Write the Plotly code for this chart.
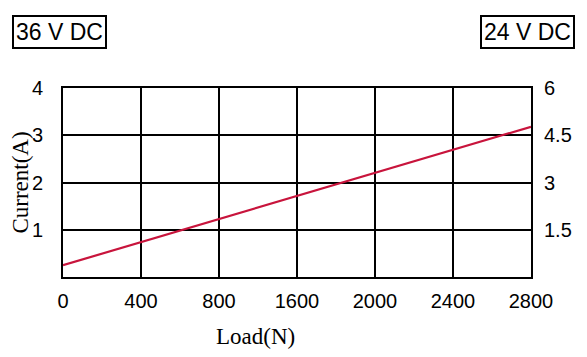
import plotly.graph_objects as go

# Data
load_labels = ["0", "400", "800", "1600", "2000", "2400", "2800"]
current_36v = [0.25, 0.74, 1.23, 1.72, 2.21, 2.69, 3.18]
left_ticks = [1, 2, 3, 4]
right_ticks = [1.5, 3, 4.5, 6]
right_tick_labels = ["1.5", "3", "4.5", "6"]

idx = list(range(len(load_labels)))

# page body has an 8px default margin; compensate
OFF = 8
W, H = 587 - OFF, 357 - OFF
l, t = 63 - OFF, 88 - OFF
r = W - (531 - OFF)
b = H - (277 - OFF)

fig = go.Figure()
fig.add_trace(go.Scatter(
    x=idx, y=current_36v, mode="lines",
    line=dict(color="#c8143c", width=2.2),
    showlegend=False, hoverinfo="skip",
))
fig.add_trace(go.Scatter(x=[], y=[], yaxis="y2", showlegend=False))

sans = "Liberation Sans, Arial, sans-serif"
serif = "Liberation Serif, Times New Roman, serif"

fig.update_layout(
    width=W, height=H,
    margin=dict(l=l, r=r, t=t, b=b, autoexpand=False),
    plot_bgcolor="white", paper_bgcolor="white",
    xaxis=dict(
        range=[0, 6], tickvals=idx, ticktext=load_labels,
        showgrid=True, gridcolor="black", gridwidth=2,
        showline=True, linecolor="black", linewidth=2, mirror=True,
        ticks="", ticklabelstandoff=5,
        tickfont=dict(family=sans, size=20, color="black"),
        zeroline=False,
    ),
    yaxis=dict(
        range=[0, 4], tickvals=left_ticks,
        showgrid=True, gridcolor="black", gridwidth=2,
        showline=True, linecolor="black", linewidth=2, mirror=True,
        ticks="", ticklabelstandoff=14,
        tickfont=dict(family=sans, size=20, color="black"),
        zeroline=False,
        title=dict(text="Current(A)", standoff=12,
                   font=dict(family=serif, size=23, color="black")),
    ),
    yaxis2=dict(
        overlaying="y", side="right", range=[0, 6],
        tickvals=right_ticks, ticktext=right_tick_labels,
        showgrid=False, zeroline=False, showline=False,
        ticks="", ticklabelstandoff=12,
        tickfont=dict(family=sans, size=20, color="black"),
    ),
)

# annotations positioned by target page pixels
ann_specs = [
    dict(text="Load(N)", px=255, py=336,
         font=dict(family=serif, size=23, color="black")),
    dict(text="36 V DC", px=59, py=32,
         font=dict(family=sans, size=23, color="black"),
         bordercolor="black", borderwidth=2, borderpad=2, bgcolor="white"),
    dict(text="24 V DC", px=527, py=32,
         font=dict(family=sans, size=23, color="black"),
         bordercolor="black", borderwidth=2, borderpad=2, bgcolor="white"),
]
pw, ph = W - l - r, H - t - b
anns = []
for s in ann_specs:
    px, py = s.pop("px") - OFF, s.pop("py") - OFF
    s.update(xref="paper", yref="paper", showarrow=False,
             x=(px - l) / pw, y=(H - b - py) / ph,
             xanchor="center", yanchor="middle")
    anns.append(s)
fig.update_layout(annotations=anns)

fig.write_html("out.html")
